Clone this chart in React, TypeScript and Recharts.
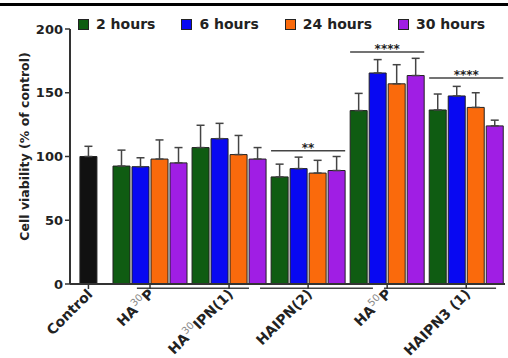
import { BarChart, Bar, XAxis, YAxis, Cell, ErrorBar, ReferenceLine, Label } from 'recharts';

const FONT = '"DejaVu Sans", sans-serif';

const seriesNames = ['2 hours', '6 hours', '24 hours', '30 hours'];
const seriesColors = ['#0f5c12', '#0808f2', '#fa6a0c', '#a01ee4'];

const controlLabel = 'Control';
const controlValue = 100;
const controlError = 8;

// group labels: [before superscript, superscript, after]
const groupLabels = [
  ['HA', '30', 'P'],
  ['HA', '30', 'IPN(1)'],
  ['HAIPN(2)'],
  ['HA', '50', 'P'],
  ['HAIPN3 (1)'],
];

const hours2 = [92.5, 107, 84, 136, 136.5];
const hours6 = [92, 114, 90.5, 165.5, 147.5];
const hours24 = [98, 101.5, 87, 157, 138.5];
const hours30 = [95, 98, 89, 163.5, 124];

const hours2Err = [12.5, 17.5, 10, 13.5, 12.5];
const hours6Err = [7, 12, 9, 10.5, 7.5];
const hours24Err = [15, 15, 10, 15, 11.5];
const hours30Err = [12, 9, 11, 13.5, 4.5];

const seriesValues = [hours2, hours6, hours24, hours30];
const seriesErrors = [hours2Err, hours6Err, hours24Err, hours30Err];

const sigGroups = [2, 3, 4];
const sigLevels = [104.5, 182, 161.5];
const sigTexts = ['**', '****', '****'];

const yTicks = [0, 50, 100, 150, 200];

// x layout in bar slots (control bar sits at slot 0)
const CTRL_GAP = 1.74;
const GROUP_STEP = 4.16;
const barPos = (g: number, i: number) => CTRL_GAP + g * GROUP_STEP + i;
const groupCenter = (g: number) => barPos(g, 1.5);

const underlines = [
  [2.55, 8.45],
  [9.03, 14.97],
  [15.55, 21.45],
];

const rows = [
  { pos: 0, value: controlValue, err: [0, controlError], fill: '#111' },
  ...groupLabels.flatMap((_, g) =>
    seriesValues.map((vals, i) => ({
      pos: barPos(g, i),
      value: vals[g],
      err: [0, seriesErrors[i][g]],
      fill: seriesColors[i],
    }))
  ),
];

const xTicks = [0, ...groupLabels.map((_, g) => groupCenter(g))];
const xLabels = [[controlLabel], ...groupLabels];

const XTick = (props: any) => {
  const { x, y, index } = props;
  const parts = xLabels[index] || [];
  return (
    <g transform={`translate(${x + 5},${y + 4})`}>
      <text
        textAnchor="end"
        transform="rotate(-45)"
        fontFamily={FONT}
        fontSize={14}
        fontWeight="bold"
        fill="#222"
      >
        {parts.length === 3 ? (
          <>
            <tspan>{parts[0]}</tspan>
            <tspan dy={-6} fontSize={10} fontWeight="normal" fill="#888">
              {parts[1]}
            </tspan>
            <tspan dy={6}>{parts[2]}</tspan>
          </>
        ) : (
          parts[0]
        )}
      </text>
    </g>
  );
};

const YLabel = (props: any) => {
  const { x, y, height } = props.viewBox;
  const cx = x + 24;
  const cy = y + height / 2 - 10;
  return (
    <text
      x={cx}
      y={cy}
      transform={`rotate(-90, ${cx}, ${cy})`}
      textAnchor="middle"
      dominantBaseline="central"
      fontFamily={FONT}
      fontSize={12.5}
      fontWeight="bold"
      fill="#222"
    >
      Cell viability (% of control)
    </text>
  );
};

export default function App() {
  return (
    <div style={{ position: 'relative', width: 508, height: 358, background: '#fff' }}>
      <style>{'body{margin:0}'}</style>
      <div style={{ position: 'absolute', top: 3, left: 0, width: 508, height: 2.5, background: '#000' }} />
      <div
        style={{
          position: 'absolute',
          top: 16,
          left: 78,
          display: 'flex',
          gap: 26,
          fontFamily: FONT,
          fontWeight: 'bold',
          fontSize: 14,
          color: '#222',
          zIndex: 2,
        }}
      >
        {seriesNames.map((name, i) => (
          <div key={name} style={{ display: 'flex', alignItems: 'center' }}>
            <span
              style={{
                display: 'inline-block',
                width: 9,
                height: 9,
                background: seriesColors[i],
                border: '1px solid #222',
                marginRight: 7,
              }}
            />
            <span>{name}</span>
          </div>
        ))}
      </div>
      <BarChart
        width={508}
        height={358}
        data={rows}
        margin={{ top: 29, right: 3, bottom: 0, left: 0 }}
      >
        <XAxis
          type="number"
          dataKey="pos"
          domain={[-0.97, 21.92]}
          ticks={xTicks}
          interval={0}
          height={74}
          tick={<XTick />}
          tickSize={5}
          axisLine={{ stroke: '#333', strokeWidth: 2 }}
          tickLine={{ stroke: '#333', strokeWidth: 1.5 }}
        />
        <YAxis
          domain={[0, 200]}
          ticks={yTicks}
          width={70}
          tickSize={5}
          axisLine={{ stroke: '#333', strokeWidth: 2 }}
          tickLine={{ stroke: '#333', strokeWidth: 1.5 }}
          tick={{ fontFamily: FONT, fontSize: 13, fontWeight: 'bold', fill: '#222' }}
        >
          <Label content={<YLabel />} />
        </YAxis>
        <Bar dataKey="value" barSize={17} stroke="#222" strokeWidth={1} isAnimationActive={false}>
          {rows.map((r, i) => (
            <Cell key={i} fill={r.fill} />
          ))}
          <ErrorBar dataKey="err" direction="y" width={4} stroke="#444" strokeWidth={1.5} />
        </Bar>
        {sigGroups.map((g, k) => (
          <ReferenceLine
            key={'sig' + k}
            segment={[
              { x: barPos(g, 0) - 0.45, y: sigLevels[k] },
              { x: barPos(g, 3) + 0.45, y: sigLevels[k] },
            ]}
            stroke="#444"
            strokeWidth={1.5}
            ifOverflow="visible"
          >
            <Label
              value={sigTexts[k]}
              position="top"
              offset={-1}
              fontFamily={FONT}
              fontSize={12}
              fontWeight="bold"
              fill="#222"
            />
          </ReferenceLine>
        ))}
        {underlines.map(([a, b], k) => (
          <ReferenceLine
            key={'ul' + k}
            segment={[
              { x: a, y: -3.3 },
              { x: b, y: -3.3 },
            ]}
            stroke="#444"
            strokeWidth={1.5}
            ifOverflow="visible"
          />
        ))}
      </BarChart>
    </div>
  );
}
